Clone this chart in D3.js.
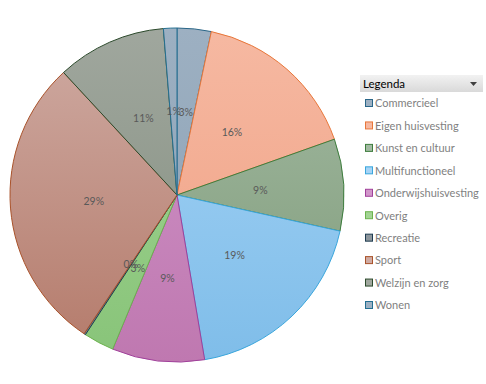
<!DOCTYPE html>
<html>
<head>
<meta charset="utf-8">
<script src="https://cdn.jsdelivr.net/npm/d3@7"></script>
<style>
    body { margin: 0; background: #fff; }
    svg { display: block; }
    .slice-label { font-family: Lato, "Open Sans", sans-serif; font-size: 10.5px; fill: #595959; }
    .legend-text { font-family: Lato, "Open Sans", sans-serif; font-size: 11px; fill: #7f7f7f; }
    .legend-title { font-family: Lato, "Open Sans", sans-serif; font-size: 11.5px; fill: #000; }
</style>
</head>
<body>
<svg id="chart" width="486" height="384"></svg>
<script>
var categories = ["Commercieel", "Eigen huisvesting", "Kunst en cultuur", "Multifunctioneel",
    "Onderwijshuisvesting", "Overig", "Recreatie", "Sport", "Welzijn en zorg", "Wonen"];
var values = [3.3, 16.3, 8.9, 18.9, 8.95, 2.95, 0.15, 28.75, 10.6, 1.3];

// top colour, bottom colour, edge colour per category
var topColors = ["#9db0c2", "#f6b9a2", "#a3baa3", "#a6d4f6", "#d196ca", "#a3d494", "#8d969c", "#cfaba3", "#a0a79e", "#9db0c2"];
var bottomColors = ["#8aa0b3", "#ef9f82", "#7f9b79", "#7fbde9", "#bf78b0", "#88c479", "#7d868c", "#b47a6a", "#828d7d", "#8aa0b3"];
var edgeColors = ["#2a6688", "#e8773a", "#3d7d3d", "#3aa6dc", "#a0409a", "#6cb34e", "#1d3b50", "#a9522a", "#2c4a2c", "#236f91"];

var svg = d3.select("#chart");
var cx = 177, cy = 195, radius = 167;

var defs = svg.append("defs");
categories.forEach(function(c, i) {
    var grad = defs.append("linearGradient")
        .attr("id", "grad" + i)
        .attr("gradientUnits", "userSpaceOnUse")
        .attr("x1", 0).attr("y1", -radius)
        .attr("x2", 0).attr("y2", radius);
    grad.append("stop").attr("offset", "0%").attr("stop-color", topColors[i]);
    grad.append("stop").attr("offset", "100%").attr("stop-color", bottomColors[i]);
});

var total = d3.sum(values);
var pie = d3.pie().sort(null).value(function(d) { return d; });
var arcs = pie(values);

var arc = d3.arc().innerRadius(0).outerRadius(radius);
var labelArc = d3.arc().innerRadius(radius * 0.5).outerRadius(radius * 0.5);

var g = svg.append("g").attr("transform", "translate(" + cx + "," + cy + ")");

g.selectAll(".slice")
    .data(arcs)
    .enter().append("path")
    .attr("class", "slice")
    .attr("d", arc)
    .attr("fill", function(d, i) { return "url(#grad" + i + ")"; })
    .attr("stroke", function(d, i) { return edgeColors[i]; })
    .attr("stroke-width", 1);

g.selectAll(".slice-label")
    .data(arcs)
    .enter().append("text")
    .attr("class", "slice-label")
    .attr("transform", function(d) { return "translate(" + labelArc.centroid(d) + ")"; })
    .attr("text-anchor", "middle")
    .attr("dy", "0.35em")
    .text(function(d) { return Math.round(d.value / total * 100) + "%"; });

// legend
var legend = svg.append("g").attr("transform", "translate(360,75)");

var headGrad = defs.append("linearGradient")
    .attr("id", "headGrad")
    .attr("x1", 0).attr("y1", 0).attr("x2", 0).attr("y2", 1);
headGrad.append("stop").attr("offset", "0%").attr("stop-color", "#f2f2f2");
headGrad.append("stop").attr("offset", "100%").attr("stop-color", "#d9d9d9");

legend.append("rect")
    .attr("width", 123).attr("height", 17)
    .attr("fill", "url(#headGrad)");
legend.append("text")
    .attr("class", "legend-title")
    .attr("x", 3).attr("y", 12.5)
    .text("Legenda");
legend.append("path")
    .attr("d", "M110,7L117,7L113.5,11Z")
    .attr("fill", "#404040");

var y = d3.scalePoint().domain(categories).range([29, 231]);

var item = legend.selectAll(".legend-item")
    .data(categories)
    .enter().append("g")
    .attr("class", "legend-item")
    .attr("transform", function(d) { return "translate(0," + y(d) + ")"; });

item.append("rect")
    .attr("x", 5.5).attr("y", -4.5)
    .attr("width", 7).attr("height", 7)
    .attr("fill", function(d, i) { return topColors[i]; })
    .attr("stroke", function(d, i) { return edgeColors[i]; })
    .attr("stroke-width", 1);

item.append("text")
    .attr("class", "legend-text")
    .attr("x", 15)
    .attr("dy", "0.3em")
    .text(function(d) { return d; });
</script>
</body>
</html>
